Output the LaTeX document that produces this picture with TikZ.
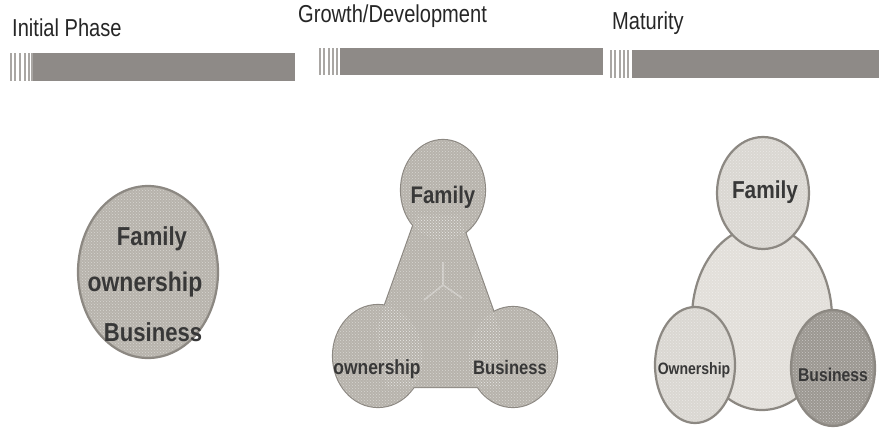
\documentclass[tikz,border=0pt]{standalone}
\usepackage{fontspec}
\setmainfont{Liberation Sans}
\newfontfamily\headfont{Liberation Sans}[FakeStretch=0.82]
\newfontfamily\labfont{Liberation Sans Bold}[FakeStretch=0.85]
\usetikzlibrary{patterns}
\definecolor{barfill}{HTML}{8E8A87}
\definecolor{stripegray}{HTML}{A9A6A3}
\definecolor{rim}{HTML}{8C8882}
\definecolor{midgray}{HTML}{B7B3AC}
\definecolor{lightgray}{HTML}{DAD7D2}
\definecolor{palegray}{HTML}{E2DFDA}
\definecolor{darkgray}{HTML}{9C9892}
\definecolor{inkgray}{HTML}{383838}
\begin{document}
\begin{tikzpicture}[x=1pt,y=-1pt,
  heading/.style={anchor=base west, inner sep=0pt, font=\headfont\fontsize{24.5}{24.5}\selectfont, text=black!85},
  phasebar/.style={fill=barfill},
  stripe/.style={draw=stripegray, line width=1.6pt},
  outline/.style={draw=rim, line width=2.2pt},
  dots/.style={pattern=crosshatch dots, pattern color=white, fill opacity=0.45},
  lab/.style={inner sep=0pt, text=inkgray, font=\labfont\fontsize{#1}{#1}\selectfont},
  lab/.default=21]
\useasboundingbox (0,0) rectangle (879,432);

% ---- phase headings and bars ----
\node[heading] (h1) at (12,36) {Initial Phase};
\node[heading] (h2) at (298,22) {Growth/Development};
\node[heading] (h3) at (612,29) {Maturity};

\fill[phasebar] (33,53) rectangle (295,81);
\foreach \sx in {11,15,20,25,29,32} \draw[stripe] (\sx,53) -- (\sx,81);
\fill[phasebar] (340,48) rectangle (603,75);
\foreach \sx in {320,324,329,333,337} \draw[stripe] (\sx,48) -- (\sx,75);
\fill[phasebar] (632,50) rectangle (879,78);
\foreach \sx in {611,615,620,624,628} \draw[stripe] (\sx,50) -- (\sx,78);

% ---- initial phase: one combined circle ----
\draw[outline, fill=midgray] (148,272) ellipse [x radius=70pt, y radius=86pt];
\fill[dots] (148,272) ellipse [x radius=68pt, y radius=84pt];
\node[lab=26] (i1) at (152,239) {Family};
\node[lab=27] (i2) at (145,285) {ownership};
\node[lab=26] (i3) at (153,332) {Business};

% ---- growth: three circles joined by a trunk ----
\def\trunk{(417,215) -- (459,215) -- (500,330) -- (500,387) -- (386,387) -- (376,330) -- cycle}
\def\gtop{(443,190) ellipse [x radius=42pt, y radius=50pt]}
\def\gleft{(378,356) ellipse [x radius=45pt, y radius=51pt]}
\def\gright{(513,357) ellipse [x radius=44pt, y radius=50pt]}
\draw[outline] \trunk;
\draw[outline] \gtop;
\draw[outline] \gleft;
\draw[outline] \gright;
\fill[midgray] \trunk;
\fill[midgray] \gtop;
\fill[midgray] \gleft;
\fill[midgray] \gright;
\fill[dots] \trunk;
\fill[dots] \gtop;
\fill[dots] \gleft;
\fill[dots] \gright;
\draw[white, opacity=0.3, line width=1.6pt] (443,262) -- (443,285) -- (424,300) (443,285) -- (462,298);
\node[lab=24] (g1) at (443,197) {Family};
\node[lab=20.5] (g2) at (377,369) {ownership};
\node[lab=19.5] (g3) at (510,368) {Business};

% ---- maturity: separate circles over a common body ----
\draw[outline, fill=palegray] (762,318) ellipse [x radius=70pt, y radius=92pt];
\fill[dots] (762,318) ellipse [x radius=68pt, y radius=90pt];
\draw[outline, fill=lightgray] (763,193) ellipse [x radius=46pt, y radius=56pt];
\fill[dots] (763,193) ellipse [x radius=44pt, y radius=54pt];
\draw[outline, fill=lightgray] (695,365) ellipse [x radius=40pt, y radius=58pt];
\fill[dots] (695,365) ellipse [x radius=38pt, y radius=56pt];
\draw[outline, fill=darkgray] (833,368) ellipse [x radius=42pt, y radius=58pt];
\fill[dots] (833,368) ellipse [x radius=40pt, y radius=56pt];
\node[lab=24.5] (m1) at (765,192) {Family};
\node[lab=16.5] (m2) at (694,370) {Ownership};
\node[lab=18.5] (m3) at (833,375) {Business};
\end{tikzpicture}
\end{document}
